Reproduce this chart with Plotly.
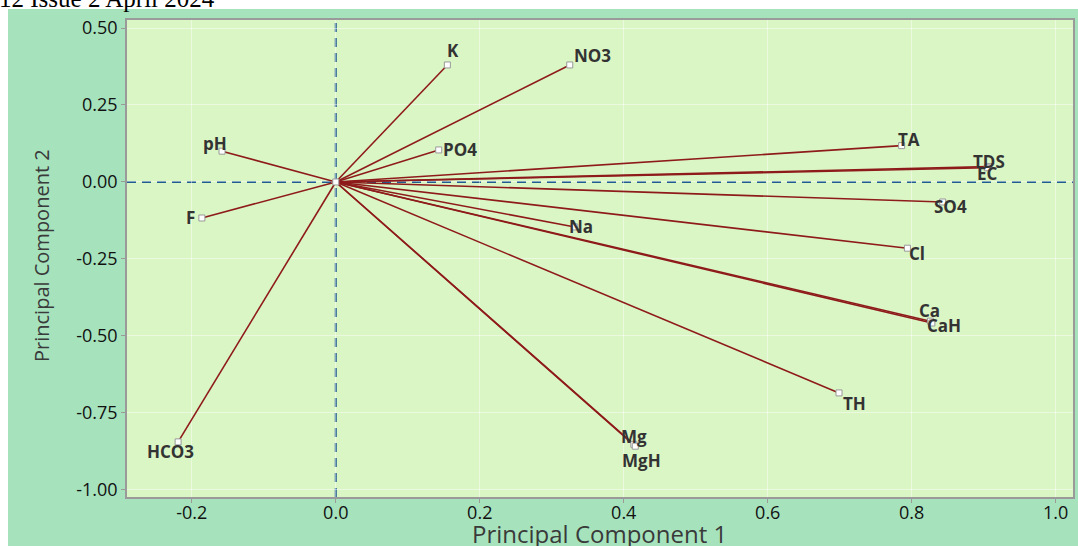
import plotly.graph_objects as go

# PCA loadings (PC1, PC2) for each water-quality parameter
variables = ["pH", "F", "K", "NO3", "PO4", "TA", "TDS", "EC", "SO4", "Na",
             "Cl", "Ca", "CaH", "TH", "Mg", "MgH", "HCO3"]
pc1 = [-0.158, -0.186, 0.155, 0.325, 0.143, 0.786, 0.907, 0.905, 0.843, 0.332,
       0.794, 0.826, 0.828, 0.699, 0.414, 0.416, -0.219]
pc2 = [0.100, -0.117, 0.380, 0.380, 0.104, 0.118, 0.050, 0.046, -0.065, -0.146,
       -0.215, -0.452, -0.458, -0.685, -0.852, -0.858, -0.844]

x_ticks = [-0.2, 0.0, 0.2, 0.4, 0.6, 0.8, 1.0]
x_tick_text = ["-0.2", "0.0", "0.2", "0.4", "0.6", "0.8", "1.0"]
y_ticks = [0.5, 0.25, 0.0, -0.25, -0.5, -0.75, -1.0]
y_tick_text = ["0.50", "0.25", "0.00", "-0.25", "-0.50", "-0.75", "-1.00"]

# label offsets (pixels) relative to each vector tip
label_shift = {
    "pH": (-7, 8), "F": (-11, 1), "K": (6, 14), "NO3": (23, 9), "PO4": (21, 0),
    "TA": (7, 6), "TDS": (0, 5), "EC": (0, -6), "SO4": (8, -5), "Na": (6, 0),
    "Cl": (10, -5), "Ca": (-1, 11), "CaH": (12, -2), "TH": (15, -11),
    "Mg": (0, 8), "MgH": (6, -14), "HCO3": (-8, -10),
}

OUTER = "#a6e3bd"
PLOT_BG = "#dbf6c5"
VEC = "#8e1b1b"
REF = "#1f5d8f"
LABEL = "#333333"
TITLE = "#3a3a3a"

# vectors from the origin
vx, vy = [], []
for a, b in zip(pc1, pc2):
    vx += [0, a, None]
    vy += [0, b, None]

fig = go.Figure()
fig.add_trace(go.Scatter(x=vx, y=vy, mode="lines",
                         line=dict(color=VEC, width=1.6),
                         hoverinfo="skip", showlegend=False))
fig.add_trace(go.Scatter(x=pc1 + [0], y=pc2 + [0], mode="markers",
                         marker=dict(symbol="square", size=6, color="white",
                                     line=dict(color="#999999", width=1)),
                         text=variables + [""], showlegend=False))

for name, a, b in zip(variables, pc1, pc2):
    dx, dy = label_shift[name]
    fig.add_annotation(x=a, y=b, xref="x", yref="y", text=name,
                       showarrow=False, xshift=dx, yshift=dy,
                       font=dict(family="Open Sans", size=17, color=LABEL,
                                 weight="bold"))

# dashed reference lines through the origin
fig.add_shape(type="line", xref="x", yref="paper", x0=0, x1=0, y0=0, y1=1,
              line=dict(color=REF, width=2, dash="9px,6px"), layer="below")
fig.add_shape(type="line", xref="paper", yref="y", x0=0, x1=1, y0=0, y1=0,
              line=dict(color=REF, width=2, dash="9px,6px"), layer="below")

# white page strips around the green panel
W, H = 1078, 546
L, R, T, B = 127, 5, 20, 49
pw, ph = W - L - R, H - T - B
fig.add_shape(type="rect", xref="paper", yref="paper",
              x0=-L / pw, x1=(W - L) / pw, y0=1 + (T - 9) / ph, y1=1 + T / ph,
              fillcolor="white", line_width=0, layer="below")
fig.add_shape(type="rect", xref="paper", yref="paper",
              x0=-L / pw, x1=(8 - L) / pw, y0=-B / ph, y1=1 + T / ph,
              fillcolor="white", line_width=0, layer="below")
fig.add_annotation(xref="paper", yref="paper", x=(-3 - L) / pw,
                   y=1 + (T - 14) / ph, xanchor="left", yanchor="bottom",
                   text="12 Issue 2 April 2024", showarrow=False,
                   font=dict(family="Liberation Serif", size=25, color="black"))

# axis titles
fig.add_annotation(xref="paper", yref="paper", x=(599 - L) / pw,
                   y=-(533 - (H - B)) / ph, xanchor="center", yanchor="middle",
                   text="Principal Component 1", showarrow=False,
                   font=dict(family="Open Sans", size=24, color=TITLE))
fig.add_annotation(xref="paper", yref="paper", x=(42 - L) / pw,
                   y=1 - (256 - T) / ph, xanchor="center", yanchor="middle",
                   text="Principal Component 2", showarrow=False, textangle=-90,
                   font=dict(family="Open Sans", size=20, color=TITLE))

axis_common = dict(showline=True, linecolor="#9a9a9a", linewidth=1.5,
                   mirror=True, ticks="outside", ticklen=4, tickcolor="#9a9a9a",
                   showgrid=True, gridcolor="rgba(255,255,255,0.45)",
                   gridwidth=1, zeroline=False, automargin=False,
                   tickfont=dict(family="Open Sans", size=18, color="#111111"))

fig.update_layout(
    width=W, height=H, autosize=False,
    margin=dict(l=L, r=R, t=T, b=B, pad=0),
    paper_bgcolor=OUTER, plot_bgcolor=PLOT_BG,
    xaxis=dict(range=[-0.290, 1.024], tickvals=x_ticks, ticktext=x_tick_text,
               ticklabelstandoff=-5, **axis_common),
    yaxis=dict(range=[-1.023, 0.526], tickvals=y_ticks, ticktext=y_tick_text,
               **axis_common),
)

fig.write_html("out.html")
